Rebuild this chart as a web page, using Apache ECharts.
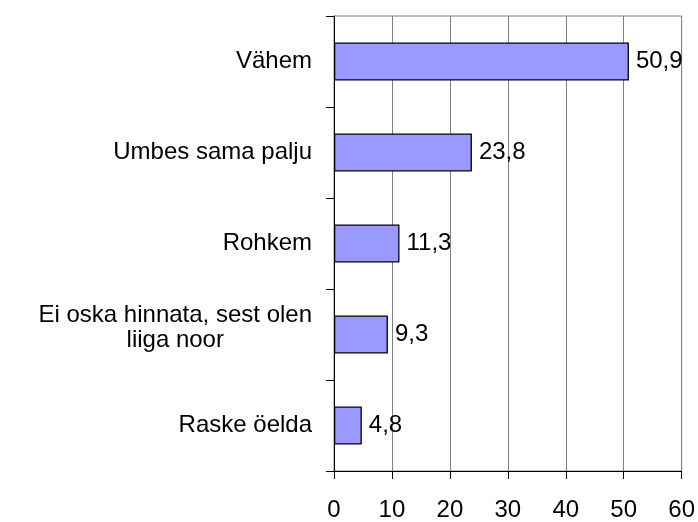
<!DOCTYPE html>
<html>
<head>
<meta charset="utf-8">
<script src="https://cdn.jsdelivr.net/npm/echarts@6/dist/echarts.min.js"></script>
<style>
html,body{margin:0;padding:0;background:#fff;}
#chart{width:698px;height:522px;}
</style>
</head>
<body>
<div id="chart"></div>
<script>
var categories = ['Vähem', 'Umbes sama palju', 'Rohkem', 'Ei oska hinnata, sest olen\nliiga noor', 'Raske öelda'];
var values = [50.9, 23.8, 11.3, 9.3, 4.8];
var xTicks = [0, 10, 20, 30, 40, 50, 60];

var FONT = '"Liberation Sans", Arial, sans-serif';
var FS = 24;
var chart = echarts.init(document.getElementById('chart'));
chart.setOption({
  animation: false,
  backgroundColor: '#ffffff',
  grid: {
    left: 334, right: 16, top: 16, bottom: 48,
    show: true, borderColor: '#808080', borderWidth: 1, backgroundColor: 'transparent'
  },
  xAxis: {
    type: 'value',
    min: xTicks[0], max: xTicks[xTicks.length - 1], interval: 10,
    axisLine: { show: true, lineStyle: { color: '#000', width: 1 } },
    axisTick: { show: true, length: 8, lineStyle: { color: '#000' } },
    splitLine: { show: true, lineStyle: { color: '#808080', width: 1 } },
    axisLabel: { color: '#000', fontFamily: FONT, fontSize: FS, margin: 27 }
  },
  yAxis: {
    type: 'category',
    inverse: true,
    data: categories,
    axisLine: { show: true, lineStyle: { color: '#000', width: 1 } },
    axisTick: { show: true, length: 8, lineStyle: { color: '#000' } },
    splitLine: { show: false },
    axisLabel: {
      color: '#000', fontFamily: FONT, fontSize: FS, margin: 22,
      formatter: function (v) {
        if (v.indexOf('\n') >= 0) {
          return v.split('\n').map(function (s) { return '{c|' + s + '}'; }).join('\n') + '\n{e| }';
        }
        return v;
      },
      rich: {
        c: { align: 'center', fontFamily: FONT, fontSize: FS, lineHeight: 25, color: '#000' },
        e: { fontSize: 4, lineHeight: 14 }
      }
    }
  },
  series: [{
    type: 'bar',
    data: values,
    barWidth: 38,
    itemStyle: { color: '#9999FF', borderColor: '#000', borderWidth: 1.3 },
    label: {
      show: true, position: 'right', distance: 7,
      color: '#000', fontFamily: FONT, fontSize: FS,
      formatter: function (p) { return String(p.value).replace('.', ','); }
    }
  }]
});
</script>
</body>
</html>
